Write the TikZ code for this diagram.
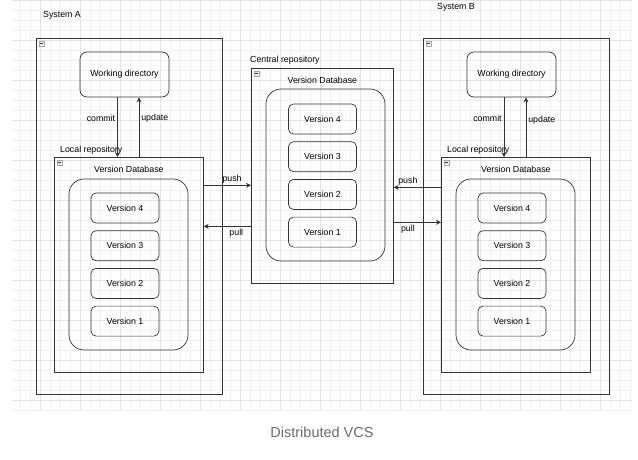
\documentclass[tikz,border=0pt]{standalone}
\usepackage{fontspec}
\setmainfont{Liberation Sans}
\usetikzlibrary{arrows.meta,positioning,calc}
\definecolor{gridminor}{gray}{0.945}
\definecolor{gridmajor}{gray}{0.89}
\definecolor{captiongray}{gray}{0.42}

\begin{document}
\begin{tikzpicture}[x=1pt,y=-1pt,font=\fontsize{8.8}{10}\selectfont,node distance=7pt,
   line/.style={draw=black!80,line width=0.7pt},
   frame/.style={line,anchor=north west,inner sep=0pt},
   wdir/.style={line,rounded corners=7pt,minimum width=89pt,minimum height=45pt},
   vdb/.style={line,rounded corners=15pt,minimum width=119pt,minimum height=171pt},
   ver/.style={line,rounded corners=5pt,minimum width=68pt,minimum height=30pt},
   fold/.style={draw=gray!70,fill=gray!12,minimum size=5pt,inner sep=0pt,
                path picture={\draw[gray!40!black,line width=0.5pt]
                  ([xshift=1pt]path picture bounding box.west) --
                  ([xshift=-1pt]path picture bounding box.east);}},
   arr/.style={line,-{Stealth[length=5pt,width=5pt]}},
   lbl/.style={inner sep=2pt}]
  \useasboundingbox (0,0) rectangle (638,460);
  % drawio background grid
  \draw[gridminor,line width=0.4pt,step=10pt] (12,0) grid (632,410);
  \draw[gridmajor,line width=0.4pt,step=40pt] (12,0) grid (632,410);

  % System A
  \node[anchor=west,inner sep=0pt] (labA) at (43,15) {System A};
  \node[frame,minimum width=186pt,minimum height=356pt] (sysA) at (36,38) {};
  \node[wdir] (wdA) at (124.5,74.5) {Working directory};
  \node[frame,minimum width=149pt,minimum height=215pt] (locA) at (54,157) {};
  \node[anchor=south west,inner sep=1pt] (llA) at ([xshift=5pt,yshift=1pt]locA.north west) {Local repository};
  \node[below=9pt of locA.north,inner sep=0pt] (dbtA) {Version Database};
  \node[vdb] (dbA) at (128.5,264.5) {};
  \node[ver] (a4) at (125,208) {Version 4};
  \node[ver,below=of a4] (a3) {Version 3};
  \node[ver,below=of a3] (a2) {Version 2};
  \node[ver,below=of a2] (a1) {Version 1};

  % Central repository
  \node[frame,minimum width=142pt,minimum height=215pt] (cen) at (251,68) {};
  \node[anchor=south west,inner sep=1pt] (lcen) at ([xshift=-2pt,yshift=2pt]cen.north west) {Central repository};
  \node[below=9pt of cen.north,inner sep=0pt] (dbtC) {Version Database};
  \node[vdb,minimum height=172pt] (dbC) at (325.5,175) {};
  \node[ver] (c4) at (322.5,119) {Version 4};
  \node[ver,below=of c4] (c3) {Version 3};
  \node[ver,below=of c3] (c2) {Version 2};
  \node[ver,below=of c2] (c1) {Version 1};

  % System B
  \node[anchor=west,inner sep=0pt] (labB) at (437,7) {System B};
  \node[frame,minimum width=186pt,minimum height=356pt] (sysB) at (423,38) {};
  \node[wdir] (wdB) at (511.5,74.5) {Working directory};
  \node[frame,minimum width=149pt,minimum height=215pt] (locB) at (441,157) {};
  \node[anchor=south west,inner sep=1pt] (llB) at ([xshift=5pt,yshift=1pt]locB.north west) {Local repository};
  \node[below=9pt of locB.north,inner sep=0pt] (dbtB) {Version Database};
  \node[vdb] (dbB) at (515.5,264.5) {};
  \node[ver] (b4) at (512,208) {Version 4};
  \node[ver,below=of b4] (b3) {Version 3};
  \node[ver,below=of b3] (b2) {Version 2};
  \node[ver,below=of b2] (b1) {Version 1};

  % collapse icons
  \node[fold] (fA)  at ([shift={(5.5,5.5)}]sysA.north west) {};
  \node[fold] (flA) at ([shift={(5.5,5.5)}]locA.north west) {};
  \node[fold] (fC)  at ([shift={(5.5,5.5)}]cen.north west) {};
  \node[fold] (fB)  at ([shift={(5.5,5.5)}]sysB.north west) {};
  \node[fold] (flB) at ([shift={(5.5,5.5)}]locB.north west) {};

  % commit / update
  \draw[arr] ([xshift=-7pt]wdA.south) -- ([xshift=-7pt]wdA.south |- locA.north)
       node[pos=0.35,left,lbl]{commit};
  \draw[arr] ([xshift=14.5pt]wdA.south |- locA.north) -- ([xshift=14.5pt]wdA.south)
       node[pos=0.65,right,lbl]{update};
  \draw[arr] ([xshift=-7.5pt]wdB.south) -- ([xshift=-7.5pt]wdB.south |- locB.north)
       node[pos=0.35,left,lbl]{commit};
  \draw[arr] ([xshift=14.5pt]wdB.south |- locB.north) -- ([xshift=14.5pt]wdB.south)
       node[pos=0.62,right,lbl]{update};

  % push / pull
  \coordinate (pushA) at ([yshift=-9.5pt]cen.west);
  \coordinate (pullA) at ([yshift=-50.5pt]cen.west);
  \coordinate (pushB) at ([yshift=-11.5pt]cen.east);
  \coordinate (pullB) at ([yshift=-46.5pt]cen.east);
  \draw[arr] (locA.east |- pushA) -- (pushA) node[pos=0.6,above,lbl]{push};
  \draw[arr] (pullA) -- (locA.east |- pullA) node[pos=0.31,below,lbl]{pull};
  \draw[arr] (locB.west |- pushB) -- (pushB) node[pos=0.7,above,lbl]{push};
  \draw[arr] (pullB) -- (locB.west |- pullB) node[pos=0.3,below,lbl]{pull};

  \node[font=\fontsize{14.5}{16}\selectfont,text=captiongray] (cap) at (322,432) {Distributed VCS};
\end{tikzpicture}
\end{document}
